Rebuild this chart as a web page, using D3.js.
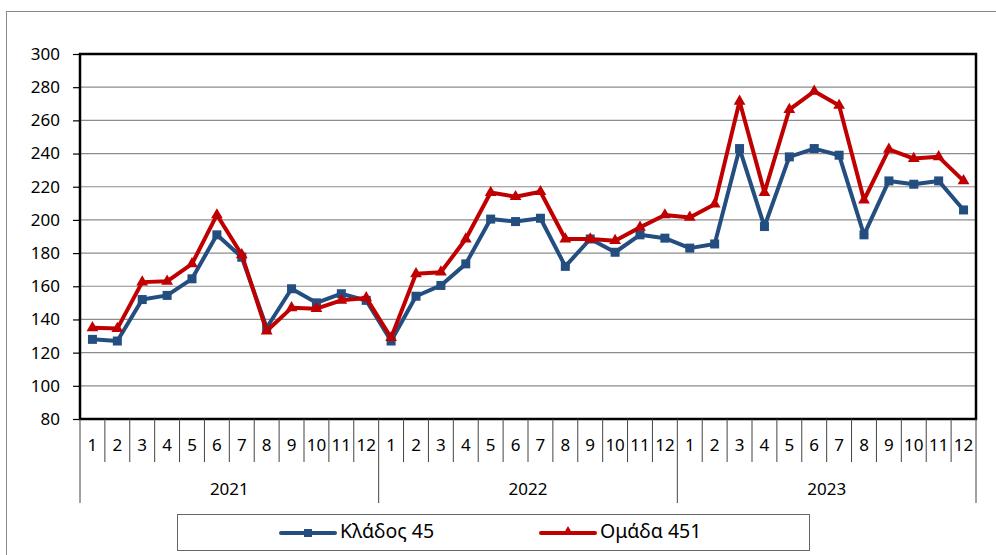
<!DOCTYPE html>
<html lang="el">
<head>
<meta charset="UTF-8">
<title>Κλάδος 45 - Ομάδα 451</title>
<script src="https://d3js.org/d3.v7.min.js"></script>
<style>
  body { margin: 0; background: #fff; }
  svg { font-family: "Noto Sans", "Open Sans", sans-serif; }
</style>
</head>
<body>
<svg id="chart" width="996" height="555"></svg>
<script>
// data
const years = ["2021", "2022", "2023"];
const months = ["1","2","3","4","5","6","7","8","9","10","11","12"];
const klados45 = [128, 127, 152, 154.5, 164.5, 191, 177.5, 135, 158.5, 150, 155.5, 151.5,
                  127, 154, 160.5, 173.5, 200.5, 199, 201, 172, 188.5, 180.5, 191, 189,
                  183, 185.5, 243, 196, 238, 243, 239, 191, 223.5, 221.5, 223.5, 206];
const omada451 = [135, 134.5, 162.5, 163, 173.5, 203, 179, 133, 147, 146.5, 151.5, 153,
                  129, 167.5, 168.5, 188.5, 216.5, 214, 217, 188.5, 188.5, 187.5, 195.5, 203,
                  201.5, 209.5, 271.5, 216.5, 266.5, 277.5, 269, 212, 242.5, 237, 238, 223.5];
const seriesNames = ["Κλάδος 45", "Ομάδα 451"];
const yTicks = [80, 100, 120, 140, 160, 180, 200, 220, 240, 260, 280, 300];

const svg = d3.select("#chart");
const pLeft = 80, pRight = 976, pTop = 54, pBottom = 419;
const blue = "#234e7f", red = "#c00000";

// outer frame
svg.append("rect").attr("x", 6.5).attr("y", 11.5).attr("width", 1000).attr("height", 600)
  .attr("fill", "none").attr("stroke", "#888").attr("stroke-width", 1);

const cats = [];
years.forEach(yr => months.forEach(m => cats.push(yr + "-" + m)));

const x = d3.scaleBand().domain(cats).range([pLeft, pRight]);
const y = d3.scaleLinear().domain([80, 300]).range([pBottom, pTop]);

// gridlines
svg.append("g").selectAll("line").data(yTicks.slice(1)).join("line")
  .attr("x1", pLeft).attr("x2", pRight)
  .attr("y1", d => y(d)).attr("y2", d => y(d))
  .attr("stroke", "#8c8c8c").attr("stroke-width", 1.2);

// y axis
const yAxis = svg.append("g").attr("transform", "translate(" + pLeft + ",0)")
  .call(d3.axisLeft(y).tickValues(yTicks).tickSize(7).tickPadding(13));
yAxis.select(".domain").remove();
yAxis.selectAll("line").attr("stroke", "#000").attr("stroke-width", 1.2);
yAxis.selectAll("text").attr("font-size", 17).attr("fill", "#000")
  .attr("font-family", "'Noto Sans', sans-serif");

// plot border
svg.append("rect").attr("x", pLeft).attr("y", pTop).attr("width", pRight - pLeft).attr("height", pBottom - pTop)
  .attr("fill", "none").attr("stroke", "#000").attr("stroke-width", 2.5);

// category axis: month separators and year separators
const catG = svg.append("g");
cats.forEach((c, i) => {
  const isYear = i % 12 === 0;
  catG.append("line")
    .attr("x1", x(c)).attr("x2", x(c))
    .attr("y1", pBottom).attr("y2", isYear ? 503 : 462)
    .attr("stroke", "#444").attr("stroke-width", 1);
});
catG.append("line").attr("x1", pRight).attr("x2", pRight).attr("y1", pBottom).attr("y2", 503)
  .attr("stroke", "#444").attr("stroke-width", 1);

catG.selectAll("text.m").data(cats).join("text").attr("class", "m")
  .attr("x", d => x(d) + x.bandwidth() / 2).attr("y", 446)
  .attr("text-anchor", "middle").attr("dominant-baseline", "middle")
  .attr("font-size", 17).text(d => d.split("-")[1]);

catG.selectAll("text.y").data(years).join("text").attr("class", "y")
  .attr("x", d => (x(d + "-1") + x(d + "-12") + x.bandwidth()) / 2).attr("y", 490)
  .attr("text-anchor", "middle").attr("dominant-baseline", "middle")
  .attr("font-size", 17).text(d => d);

// lines
const line = d3.line().x((d, i) => x(cats[i]) + x.bandwidth() / 2).y(d => y(d));

svg.append("path").datum(klados45).attr("d", line)
  .attr("fill", "none").attr("stroke", blue).attr("stroke-width", 4).attr("stroke-linejoin", "round");
svg.append("g").selectAll("rect").data(klados45).join("rect")
  .attr("x", (d, i) => x(cats[i]) + x.bandwidth() / 2 - 4.5)
  .attr("y", d => y(d) - 4.5).attr("width", 9).attr("height", 9).attr("fill", blue);

svg.append("path").datum(omada451).attr("d", line)
  .attr("fill", "none").attr("stroke", red).attr("stroke-width", 4).attr("stroke-linejoin", "round");
const tri = d3.symbol().type(d3.symbolTriangle).size(60);
svg.append("g").selectAll("path").data(omada451).join("path")
  .attr("d", tri)
  .attr("transform", (d, i) => "translate(" + (x(cats[i]) + x.bandwidth() / 2) + "," + y(d) + ")")
  .attr("fill", red);

// legend
const lg = svg.append("g");
lg.append("rect").attr("x", 177.5).attr("y", 514.5).attr("width", 632).attr("height", 36)
  .attr("fill", "#fff").attr("stroke", "#666").attr("stroke-width", 1);
const items = [{ name: seriesNames[0], color: blue, x0: 281, tx: 340, sym: "sq" },
               { name: seriesNames[1], color: red, x0: 541, tx: 600, sym: "tri" }];
items.forEach(it => {
  lg.append("line").attr("x1", it.x0).attr("x2", it.x0 + 54).attr("y1", 533).attr("y2", 533)
    .attr("stroke", it.color).attr("stroke-width", 4).attr("stroke-linecap", "round");
  if (it.sym === "sq") {
    lg.append("rect").attr("x", it.x0 + 23).attr("y", 529).attr("width", 8).attr("height", 8).attr("fill", it.color);
  } else {
    lg.append("path").attr("d", d3.symbol().type(d3.symbolTriangle).size(45))
      .attr("transform", "translate(" + (it.x0 + 27) + ",532)").attr("fill", it.color);
  }
  lg.append("text").attr("x", it.tx).attr("y", 533).attr("dominant-baseline", "middle")
    .attr("font-size", 19.5).text(it.name);
});
</script>
</body>
</html>
